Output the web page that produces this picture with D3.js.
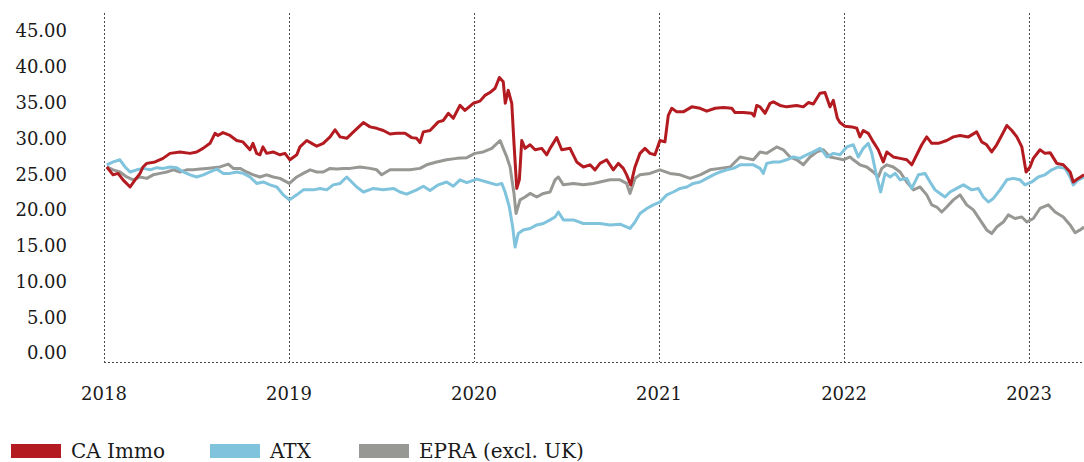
<!DOCTYPE html>
<html>
<head>
<meta charset="utf-8">
<script src="https://cdn.jsdelivr.net/npm/d3@7"></script>
<style>
  html, body { margin: 0; padding: 0; background: #ffffff; }
  svg { display: block; }
  text { font-family: "DejaVu Serif", serif; fill: #1a1a1a; }
</style>
</head>
<body>
<svg id="chart" width="1084" height="462"></svg>
<script>
// ---- Data (x = decimal year, y = value) ----
const seriesNames = ["CA Immo", "ATX", "EPRA (excl. UK)"];
const yTicks = [0, 5, 10, 15, 20, 25, 30, 35, 40, 45];
const xTicks = [2018, 2019, 2020, 2021, 2022, 2023];

const caImmo = [
[2018.015,26.0],[2018.049,24.9],[2018.076,25.1],[2018.103,24.2],[2018.141,23.2],[2018.168,24.2],[2018.195,25.1],[2018.211,26.0],
[2018.231,26.5],[2018.276,26.7],[2018.319,27.2],[2018.357,27.9],[2018.411,28.1],[2018.465,27.9],[2018.501,28.1],[2018.535,28.6],
[2018.573,29.3],[2018.600,30.7],[2018.616,30.4],[2018.643,30.8],[2018.681,30.4],[2018.717,29.7],[2018.751,29.5],[2018.789,28.4],
[2018.805,29.3],[2018.825,27.9],[2018.843,27.7],[2018.859,28.8],[2018.879,27.9],[2018.914,28.1],[2018.951,27.7],[2018.978,27.9],
[2019.005,27.0],[2019.042,27.7],[2019.059,28.8],[2019.096,29.7],[2019.123,29.3],[2019.150,28.9],[2019.185,29.3],[2019.222,30.2],
[2019.249,31.2],[2019.276,30.2],[2019.312,30.0],[2019.357,31.1],[2019.402,32.2],[2019.438,31.6],[2019.474,31.4],[2019.510,31.1],
[2019.546,30.6],[2019.582,30.7],[2019.627,30.7],[2019.663,30.1],[2019.690,30.0],[2019.708,29.4],[2019.726,30.9],[2019.762,31.1],
[2019.807,32.3],[2019.834,32.5],[2019.861,33.5],[2019.888,32.8],[2019.924,34.6],[2019.951,33.9],[2019.996,34.9],[2020.032,35.2],
[2020.059,36.0],[2020.086,36.4],[2020.114,37.0],[2020.137,38.5],[2020.158,37.9],[2020.169,34.9],[2020.185,36.7],[2020.204,34.9],
[2020.216,29.3],[2020.231,23.0],[2020.245,24.2],[2020.258,29.7],[2020.276,28.6],[2020.303,29.1],[2020.330,28.4],[2020.366,28.6],
[2020.393,27.7],[2020.411,28.6],[2020.447,30.1],[2020.474,28.4],[2020.519,28.6],[2020.555,26.7],[2020.591,26.0],[2020.627,26.3],
[2020.654,25.6],[2020.681,26.5],[2020.717,27.0],[2020.753,25.6],[2020.780,26.5],[2020.807,25.8],[2020.825,24.9],[2020.847,23.5],
[2020.870,26.0],[2020.897,27.9],[2020.924,28.6],[2020.951,27.9],[2020.978,27.7],[2021.005,29.7],[2021.032,29.5],[2021.050,33.2],
[2021.069,34.2],[2021.096,33.7],[2021.131,33.7],[2021.177,34.4],[2021.222,34.2],[2021.258,33.8],[2021.303,34.2],[2021.348,34.3],
[2021.393,34.2],[2021.411,33.6],[2021.456,33.6],[2021.501,33.5],[2021.514,33.1],[2021.528,34.6],[2021.546,34.4],[2021.573,33.5],
[2021.600,34.9],[2021.618,35.1],[2021.654,34.6],[2021.690,34.4],[2021.744,34.6],[2021.780,34.4],[2021.807,35.0],[2021.834,34.8],
[2021.870,36.3],[2021.897,36.4],[2021.924,34.4],[2021.942,35.3],[2021.964,32.8],[2021.978,32.2],[2022.005,31.7],[2022.042,31.6],
[2022.069,31.4],[2022.086,30.2],[2022.104,31.1],[2022.131,30.7],[2022.158,29.5],[2022.185,28.4],[2022.212,26.7],[2022.231,28.1],
[2022.266,27.4],[2022.303,27.2],[2022.339,27.0],[2022.366,26.3],[2022.393,27.7],[2022.420,29.1],[2022.447,30.2],[2022.474,29.3],
[2022.510,29.3],[2022.555,29.7],[2022.591,30.2],[2022.627,30.4],[2022.672,30.2],[2022.717,30.9],[2022.744,29.5],[2022.771,29.1],
[2022.798,28.1],[2022.825,29.1],[2022.852,30.4],[2022.880,31.8],[2022.907,31.1],[2022.934,30.2],[2022.961,28.8],[2022.984,25.3],
[2023.005,26.0],[2023.023,27.2],[2023.059,28.4],[2023.086,27.9],[2023.114,28.0],[2023.150,26.5],[2023.185,26.3],[2023.222,25.3],
[2023.239,23.9],[2023.266,24.4],[2023.297,24.9]
];

const atx = [
[2018.015,26.3],[2018.050,26.7],[2018.086,27.0],[2018.114,26.0],[2018.141,25.3],[2018.177,25.6],[2018.212,25.8],[2018.249,25.6],
[2018.285,25.9],[2018.321,25.8],[2018.357,26.0],[2018.393,25.9],[2018.429,25.3],[2018.465,24.9],[2018.501,24.6],[2018.537,24.9],
[2018.573,25.3],[2018.609,25.7],[2018.645,25.1],[2018.681,25.1],[2018.717,25.3],[2018.753,25.1],[2018.789,24.6],[2018.825,23.7],
[2018.861,23.9],[2018.897,23.5],[2018.934,23.2],[2018.969,22.1],[2019.002,21.4],[2019.042,22.1],[2019.077,22.8],[2019.131,22.8],
[2019.168,23.0],[2019.204,22.8],[2019.239,23.5],[2019.276,23.7],[2019.312,24.6],[2019.366,23.2],[2019.402,22.5],[2019.456,23.0],
[2019.510,22.8],[2019.564,23.0],[2019.600,22.5],[2019.636,22.2],[2019.690,22.8],[2019.726,23.3],[2019.762,22.7],[2019.807,23.5],
[2019.852,23.9],[2019.888,23.3],[2019.924,24.2],[2019.961,23.8],[2020.015,24.3],[2020.069,23.9],[2020.123,23.5],[2020.150,23.7],
[2020.168,22.5],[2020.191,20.4],[2020.209,17.6],[2020.222,14.8],[2020.239,16.7],[2020.266,17.2],[2020.303,17.4],[2020.339,17.9],
[2020.375,18.1],[2020.411,18.6],[2020.438,19.0],[2020.456,19.7],[2020.483,18.6],[2020.537,18.6],[2020.591,18.1],[2020.645,18.1],
[2020.681,18.1],[2020.735,17.9],[2020.789,18.0],[2020.843,17.4],[2020.870,18.3],[2020.897,19.5],[2020.934,20.2],[2020.969,20.7],
[2021.005,21.1],[2021.042,22.1],[2021.077,22.5],[2021.114,23.0],[2021.150,23.2],[2021.185,23.7],[2021.222,23.9],[2021.258,24.4],
[2021.294,24.9],[2021.330,25.3],[2021.366,25.6],[2021.402,25.8],[2021.438,26.3],[2021.474,26.3],[2021.510,26.3],[2021.546,25.8],
[2021.564,25.1],[2021.582,26.5],[2021.618,26.7],[2021.654,26.7],[2021.690,27.0],[2021.726,27.4],[2021.762,27.2],[2021.798,27.7],
[2021.834,28.1],[2021.870,28.6],[2021.888,28.1],[2021.907,27.4],[2021.942,27.9],[2021.978,27.7],[2022.015,28.8],[2022.050,29.1],
[2022.077,27.4],[2022.104,28.6],[2022.131,29.3],[2022.150,27.9],[2022.177,24.6],[2022.198,22.5],[2022.222,25.1],[2022.249,24.6],
[2022.276,25.1],[2022.303,24.2],[2022.339,24.4],[2022.366,23.0],[2022.402,24.9],[2022.438,25.1],[2022.465,23.9],[2022.492,22.8],
[2022.519,22.3],[2022.546,21.8],[2022.573,22.5],[2022.609,23.0],[2022.645,23.5],[2022.690,22.8],[2022.726,23.0],[2022.753,21.8],
[2022.780,21.1],[2022.807,21.6],[2022.843,22.8],[2022.880,24.2],[2022.915,24.4],[2022.951,24.2],[2022.978,23.5],[2023.015,23.9],
[2023.050,24.6],[2023.086,24.9],[2023.123,25.6],[2023.158,26.0],[2023.195,25.8],[2023.222,24.6],[2023.239,23.5],[2023.266,24.2],
[2023.297,24.6]
];

const epra = [
[2018.015,26.0],[2018.050,25.6],[2018.086,25.3],[2018.123,24.6],[2018.158,24.2],[2018.195,24.6],[2018.231,24.4],[2018.266,24.9],
[2018.303,25.1],[2018.339,25.3],[2018.375,25.6],[2018.411,25.3],[2018.447,25.6],[2018.483,25.6],[2018.519,25.7],[2018.555,25.8],
[2018.591,25.9],[2018.627,26.0],[2018.672,26.4],[2018.699,25.8],[2018.735,25.8],[2018.771,25.3],[2018.807,24.9],[2018.843,24.6],
[2018.879,24.9],[2018.915,24.6],[2018.951,24.4],[2019.002,23.7],[2019.042,24.6],[2019.077,25.1],[2019.114,25.6],[2019.150,25.3],
[2019.185,25.3],[2019.222,25.8],[2019.258,25.7],[2019.294,25.8],[2019.330,25.8],[2019.384,26.0],[2019.438,25.8],[2019.474,25.6],
[2019.501,24.9],[2019.546,25.6],[2019.600,25.6],[2019.654,25.6],[2019.708,25.8],[2019.744,26.3],[2019.798,26.7],[2019.852,27.0],
[2019.907,27.2],[2019.961,27.3],[2020.005,27.9],[2020.050,28.1],[2020.096,28.6],[2020.141,29.7],[2020.158,28.6],[2020.177,27.4],
[2020.195,26.0],[2020.216,22.3],[2020.227,19.5],[2020.249,21.4],[2020.276,21.8],[2020.303,22.3],[2020.339,21.8],[2020.375,22.3],
[2020.411,22.5],[2020.438,24.2],[2020.456,24.6],[2020.483,23.5],[2020.537,23.7],[2020.591,23.5],[2020.645,23.7],[2020.681,23.9],
[2020.735,24.2],[2020.789,24.2],[2020.825,23.7],[2020.843,22.3],[2020.870,24.4],[2020.897,24.9],[2020.951,25.1],[2021.005,25.6],
[2021.059,25.1],[2021.114,24.9],[2021.168,24.4],[2021.222,24.9],[2021.276,25.6],[2021.330,25.8],[2021.384,26.0],[2021.438,27.4],
[2021.474,27.2],[2021.510,27.0],[2021.546,28.1],[2021.582,27.9],[2021.636,28.8],[2021.672,28.4],[2021.708,27.4],[2021.744,27.0],
[2021.780,26.3],[2021.816,27.4],[2021.852,28.1],[2021.888,28.4],[2021.924,27.4],[2021.961,27.2],[2021.996,27.0],[2022.032,27.4],
[2022.050,27.0],[2022.086,26.3],[2022.123,26.0],[2022.158,25.3],[2022.185,24.6],[2022.204,25.8],[2022.231,26.3],[2022.266,26.0],
[2022.303,25.3],[2022.339,23.9],[2022.375,22.8],[2022.411,23.2],[2022.447,22.1],[2022.474,20.7],[2022.501,20.4],[2022.528,19.7],
[2022.555,20.4],[2022.591,21.4],[2022.627,22.1],[2022.663,20.7],[2022.699,20.0],[2022.735,18.6],[2022.771,17.2],[2022.798,16.7],
[2022.825,17.6],[2022.861,18.3],[2022.888,19.3],[2022.924,18.8],[2022.961,19.0],[2022.988,18.3],[2023.023,18.8],[2023.059,20.2],
[2023.104,20.7],[2023.141,19.7],[2023.185,19.0],[2023.222,17.9],[2023.249,16.8],[2023.276,17.2],[2023.297,17.6]
];

const colors = ["#b31b20", "#7fc3dc", "#979794"];

// ---- Chart ----
const svg = d3.select("#chart");
const x = d3.scaleLinear().domain([2018, 2023.297]).range([104, 1084]);
const y = d3.scaleLinear().domain([0, 45]).range([353, 31]);
const plotTop = 13, plotBottom = 362;

// vertical dashed gridlines
svg.append("g").selectAll("line").data(xTicks).join("line")
  .attr("x1", d => Math.round(x(d)) + 0.5).attr("x2", d => Math.round(x(d)) + 0.5)
  .attr("y1", plotTop).attr("y2", plotBottom)
  .attr("stroke", "#4a4a4a").attr("stroke-width", 1).attr("stroke-dasharray", "2,2");

// bottom dotted axis line
svg.append("line")
  .attr("x1", x(2018)).attr("x2", 1084)
  .attr("y1", plotBottom + 0.5).attr("y2", plotBottom + 0.5)
  .attr("stroke", "#4a4a4a").attr("stroke-width", 1).attr("stroke-dasharray", "2,2");

// y labels
svg.append("g").selectAll("text").data(yTicks).join("text")
  .attr("x", 67).attr("y", d => y(d)).attr("dy", "0.36em")
  .attr("text-anchor", "end").style("font-size", "18px")
  .text(d => d3.format(".2f")(d));

// x labels
svg.append("g").selectAll("text").data(xTicks).join("text")
  .attr("x", d => x(d)).attr("y", 400)
  .attr("text-anchor", "middle").style("font-size", "18px")
  .text(d => d);

// lines
const line = d3.line().x(d => x(d[0])).y(d => y(d[1])).curve(d3.curveLinear);
const data = [epra, atx, caImmo];
const dColors = [colors[2], colors[1], colors[0]];
svg.append("g").selectAll("path").data(data).join("path")
  .attr("d", d => line(d))
  .attr("fill", "none")
  .attr("stroke", (d, i) => dColors[i])
  .attr("stroke-width", 3)
  .attr("stroke-linejoin", "round");

// legend
const legendX = [11, 210, 359];
const lg = svg.append("g").selectAll("g").data(seriesNames).join("g")
  .attr("transform", (d, i) => `translate(${legendX[i]},444)`);
lg.append("rect").attr("width", 50).attr("height", 14).attr("fill", (d, i) => colors[i]);
lg.append("text").attr("x", 60).attr("y", 14).style("font-size", "20px").text(d => d);
</script>
</body>
</html>
